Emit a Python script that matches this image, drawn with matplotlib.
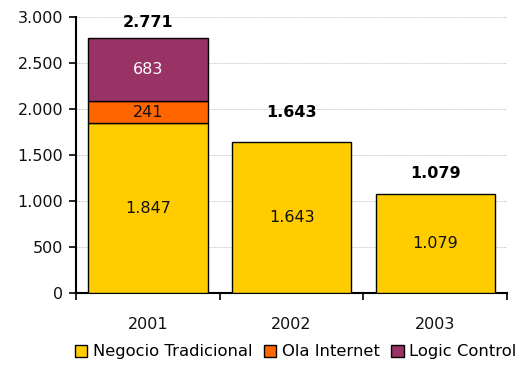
import numpy as np
import matplotlib.pyplot as plt

# data
years = ['2001', '2002', '2003']
negocio = [1847, 1643, 1079]
ola = [241, 0, 0]
logic = [683, 0, 0]
totals = ['2.771', '1.643', '1.079']
series_names = ['Negocio Tradicional', 'Ola Internet', 'Logic Control']
colors = ['#FFCC00', '#FF6600', '#993366']


def fmt(v):
    return '{:,}'.format(int(v)).replace(',', '.')


plt.rcParams['font.family'] = ['DejaVu Sans']
fig = plt.figure(figsize=(5.17, 3.65), dpi=100)
ax = fig.add_axes([0.147, 0.197, 0.834, 0.756])

x = np.arange(len(years))
w = 0.83
bottom = np.zeros(len(years))
for vals, name, c in zip([negocio, ola, logic], series_names, colors):
    vals = np.array(vals)
    mask = vals > 0
    ax.bar(x[mask], vals[mask], w, bottom=bottom[mask], color=c,
           edgecolor='black', linewidth=1.0, label=name, zorder=3)
    tcol = 'white' if c == '#993366' else '#111111'
    for xi, v, b in zip(x[mask], vals[mask], bottom[mask]):
        ax.text(xi, b + v / 2, fmt(v), ha='center', va='center',
                fontsize=11.5, color=tcol, zorder=4)
    bottom = bottom + vals

# totals above bars
offsets = [11.5, 21, 15]
for xi, top, lab, off in zip(x, bottom, totals, offsets):
    ax.annotate(lab, (xi, top), xytext=(0, off), textcoords='offset points',
                ha='center', va='center', fontsize=11.5, fontweight='bold',
                zorder=5, annotation_clip=False)

ax.set_xlim(-0.5, 2.5)
ax.set_ylim(0, 3000)
ax.set_yticks(np.arange(0, 3001, 500))
ax.set_yticklabels([fmt(v) for v in np.arange(0, 3001, 500)], fontsize=11.5,
                   color='#111111')
ax.set_xticks(x)
ax.set_xticklabels(years, fontsize=11.5, color='#111111')
ax.tick_params(axis='x', length=0, pad=17)
ax.set_xticks([-0.5, 0.5, 1.5, 2.5], minor=True)
ax.tick_params(axis='x', which='minor', length=5, width=1.2, direction='out')
ax.tick_params(axis='y', length=5, width=1.2, direction='out', pad=4)

ax.yaxis.grid(True, linestyle=(0, (2, 1)), color='#c8c8c8', linewidth=0.6, zorder=0)
ax.set_axisbelow(True)
for s in ['top', 'right']:
    ax.spines[s].set_visible(False)
ax.spines['left'].set_linewidth(1.5)
ax.spines['bottom'].set_linewidth(1.5)

fig.legend(loc='lower center', bbox_to_anchor=(0.572, -0.025), ncol=3, frameon=False,
           fontsize=11.8, handlelength=0.75, handleheight=0.75, handletextpad=0.35,
           columnspacing=0.7)

fig.savefig('out.png', dpi=100)
